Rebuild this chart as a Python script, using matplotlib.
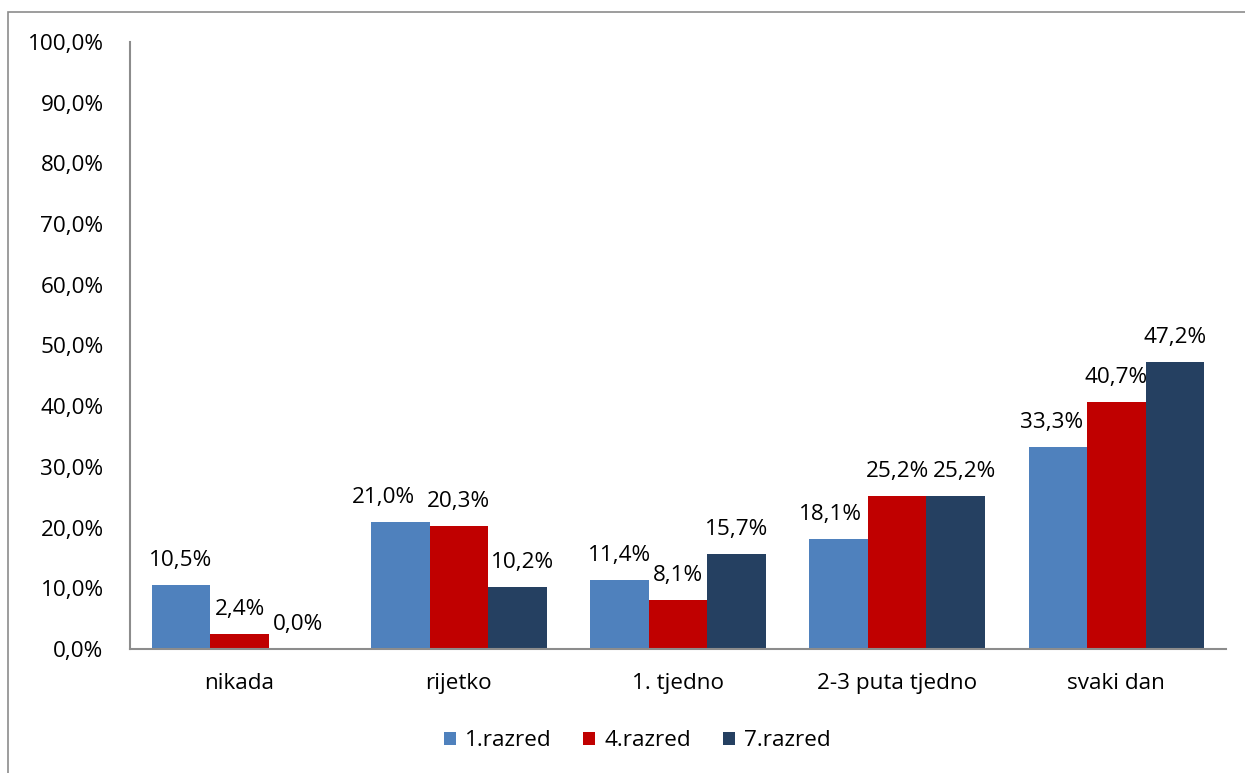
import matplotlib
matplotlib.use("Agg")
import matplotlib.pyplot as plt
import numpy as np
from matplotlib.patches import Rectangle

categories = ["nikada", "rijetko", "1. tjedno", "2-3 puta tjedno", "svaki dan"]
series_names = ["1.razred", "4.razred", "7.razred"]
razred1 = [10.5, 21.0, 11.4, 18.1, 33.3]
razred4 = [2.4, 20.3, 8.1, 25.2, 40.7]
razred7 = [0.0, 10.2, 15.7, 25.2, 47.2]
y_ticks = [0, 10, 20, 30, 40, 50, 60, 70, 80, 90, 100]

colors = ["#4F81BD", "#C00000", "#254061"]

# horizontal nudges (pixels) so neighbouring value labels do not collide
label_nudge = {(0, 1): -17, (0, 3): -8, (0, 4): -6, (2, 1): 5, (2, 3): 9}

plt.rcParams["font.family"] = ["Open Sans", "DejaVu Sans"]
FS = 16.2

fig = plt.figure(figsize=(12.45, 7.73), dpi=100)
ax = fig.add_axes([130 / 1245, 1 - 649 / 773, (1226 - 130) / 1245, (649 - 42) / 773])

# outer frame of the chart area
fig.patches.append(Rectangle((8 / 1245, -0.1), 1.2, 1 - 12 / 773 + 0.1,
                             transform=fig.transFigure, fill=False,
                             edgecolor="#8C8C8C", linewidth=1.2))

x = np.arange(len(categories))
width = 0.267
for i, (vals, name) in enumerate(zip([razred1, razred4, razred7], series_names)):
    pos = x + (i - 1) * width
    ax.bar(pos, vals, width, color=colors[i], label=name, zorder=2)
    for j, (xb, v) in enumerate(zip(pos, vals)):
        ax.annotate(f"{v:.1f}%".replace(".", ","), (xb, v),
                    xytext=(label_nudge.get((i, j), 0), 19), textcoords="offset pixels",
                    ha="center", va="baseline", fontsize=FS)

ax.set_xlim(-0.5, len(categories) - 0.5)
ax.set_ylim(0, 100)
ax.set_yticks(y_ticks)
ax.set_yticklabels([f"{t:.1f}%".replace(".", ",") for t in y_ticks], fontsize=FS)
ax.set_xticks(x)
ax.set_xticklabels(categories, fontsize=FS)
ax.tick_params(axis="y", length=0, pad=19)
ax.tick_params(axis="x", length=0, pad=17)
for s in ["top", "right"]:
    ax.spines[s].set_visible(False)
for s in ["left", "bottom"]:
    ax.spines[s].set_color("#8C8C8C")
    ax.spines[s].set_linewidth(1.5)

fig.legend(loc="center", bbox_to_anchor=(637 / 1245, 1 - 741 / 773), ncol=3,
           frameon=False, fontsize=FS, handlelength=0.55, handleheight=0.55,
           handletextpad=0.4, columnspacing=1.4)

fig.savefig("out.png", dpi=100)
